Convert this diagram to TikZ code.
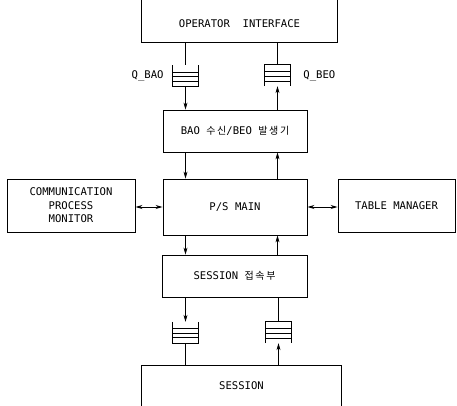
\documentclass[tikz,border=0pt]{standalone}
\usepackage{fontspec}
\setmonofont{DejaVu Sans Mono}
\newfontfamily\krfont{Noto Sans CJK KR}
\usetikzlibrary{arrows.meta,calc}
\tikzset{
  boxline/.style={line width=0.9pt},
  txt/.style={font=\fontsize{10.6}{13.5}\selectfont\ttfamily, align=center, inner sep=0pt},
  blk/.style={txt, rectangle, boxline, draw},
  openblk/.style={txt, rectangle},
  qnode/.style={rectangle, minimum width=25pt, minimum height=21pt, inner sep=0pt},
  qline/.style={line width=0.8pt},
  conn/.style={line width=0.6pt},
  arr/.style={conn, -{Stealth[length=7pt,width=4pt]}},
  dbl/.style={line width=0.9pt, {Stealth[length=7pt,width=4pt]}-{Stealth[length=7pt,width=4pt]}},
}
\newcommand\kr[1]{{\krfont\fontsize{10}{12}\selectfont #1}}
\newcommand\qopentop[1]{%
  \draw[qline] (#1.north west) -- (#1.south west) -- (#1.south east) -- (#1.north east);
  \foreach \f in {0.32,0.53,0.74}{\draw[qline] ($(#1.north west)!\f!(#1.south west)$) -- ($(#1.north east)!\f!(#1.south east)$);}}
\newcommand\qopenbot[1]{%
  \draw[qline] (#1.south west) -- (#1.north west) -- (#1.north east) -- (#1.south east);
  \foreach \f in {0.3,0.53,0.77}{\draw[qline] ($(#1.north west)!\f!(#1.south west)$) -- ($(#1.north east)!\f!(#1.south east)$);}}
\begin{document}
\begin{tikzpicture}[x=1pt,y=-1pt]
\useasboundingbox (0,0) rectangle (457,406);
\coordinate (top) at (0,0);
\coordinate (bot) at (0,406);
% operator interface (open top)
\node[openblk, minimum width=196pt, minimum height=36pt] (oi) at (239.5,24) {OPERATOR\ \ INTERFACE};
\draw[boxline] (oi.north west |- top) -- (oi.south west) -- (oi.south east) -- (oi.north east |- top);
% queues top
\node[qnode] (qbao) at (185.5,76) {};
\qopentop{qbao}
\node[qnode] (qbeo) at (277.5,75.5) {};
\qopenbot{qbeo}
\node[txt, anchor=east] (lbao) at ([xshift=-9pt]qbao.west) {Q\_BAO};
\node[txt, anchor=west] (lbeo) at ([xshift=13pt]qbeo.east) {Q\_BEO};
% blocks
\node[blk, minimum width=144pt, minimum height=42pt] (bao) at (235,131) {BAO \kr{수\,신}/BEO \kr{발\,생\,기}};
\node[blk, minimum width=144pt, minimum height=56pt] (ps) at (235,207) {P/S MAIN};
\node[blk, minimum width=128pt, minimum height=53pt] (cpm) at (71,205.5) {COMMUNICATION\\PROCESS\\MONITOR};
\node[blk, minimum width=117pt, minimum height=53pt] (tm) at (396.5,205.5) {TABLE MANAGER};
\node[blk, minimum width=145pt, minimum height=42pt] (sess) at (234.5,276) {SESSION \kr{접\,속\,부}};
% queues bottom
\node[qnode] (qsl) at (185.5,332.5) {};
\qopentop{qsl}
\node[qnode] (qsr) at (278.5,332.5) {};
\qopenbot{qsr}
% session (open bottom)
\node[openblk, minimum width=199pt, minimum height=40pt] (se) at (241.5,386) {SESSION};
\draw[boxline] (se.south west |- bot) -- (se.north west) -- (se.north east) -- (se.south east |- bot);
% connectors
\draw[conn] (qbao.north |- oi.south) -- (qbao.north);
\draw[arr] (qbao.south) -- (qbao.south |- bao.north);
\draw[conn] (qbeo.north |- oi.south) -- (qbeo.north);
\draw[arr] (qbeo.south |- bao.north) -- (qbeo.south);
\draw[arr] (qbao.south |- bao.south) -- (qbao.south |- ps.north);
\draw[arr] (qbeo.south |- ps.north) -- (qbeo.south |- bao.south);
\draw[dbl] (cpm.east |- ps.west) -- (ps.west);
\draw[dbl] (ps.east) -- (ps.east -| tm.west);
\draw[arr] (qbao.south |- ps.south) -- (qbao.south |- sess.north);
\draw[arr] (qbeo.south |- sess.north) -- (qbeo.south |- ps.south);
\draw[arr] (qsl.north |- sess.south) -- (qsl.north);
\draw[conn] (qsl.south) -- (qsl.south |- se.north);
\draw[conn] (qsr.north |- sess.south) -- (qsr.north);
\draw[arr] (qsr.south |- se.north) -- (qsr.south);
\end{tikzpicture}
\end{document}
